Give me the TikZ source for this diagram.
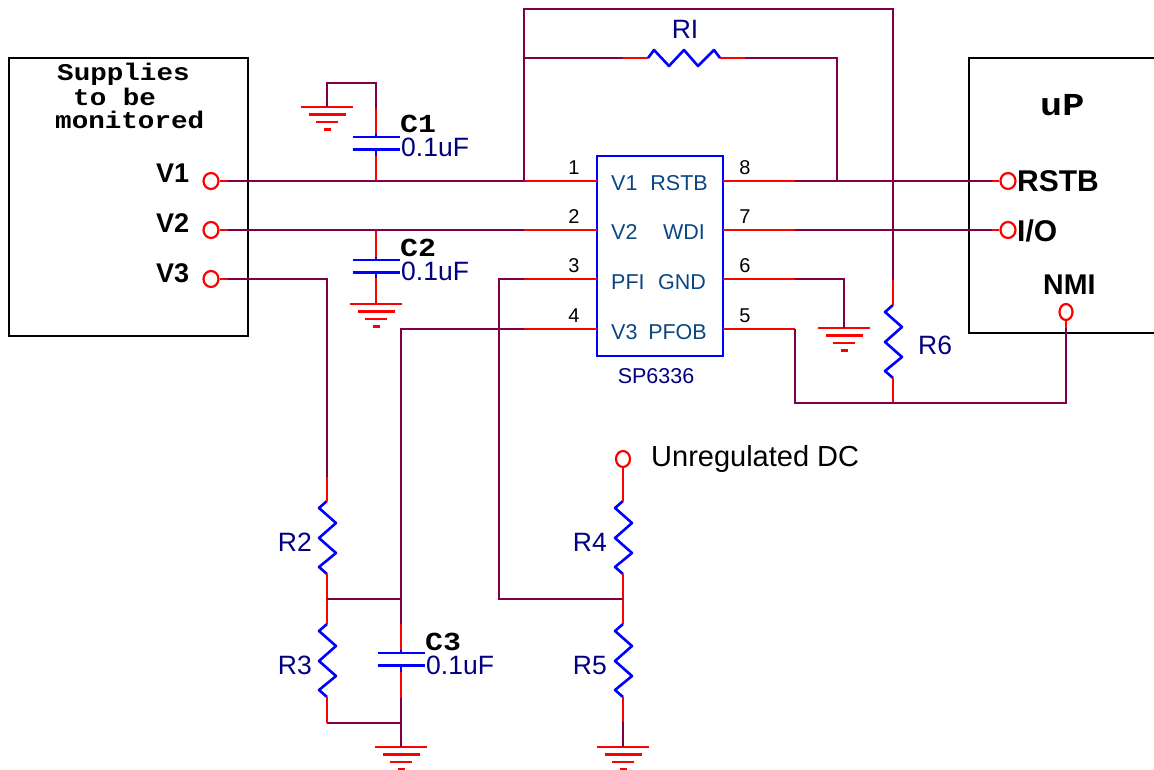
\documentclass[tikz,border=0pt]{standalone}
\usepackage{fontspec}
\setmainfont{Liberation Sans}
\newfontfamily\widemono[FakeStretch=1.15]{Liberation Mono}
\definecolor{wirecol}{RGB}{128,0,72}
\definecolor{navytext}{RGB}{0,0,128}
\definecolor{pintext}{RGB}{10,70,130}
\tikzset{
    wire/.style={line width=2.6pt, wirecol},
    lead/.style={line width=2.6pt, red},
    part/.style={line width=2.6pt, blue},
    frame/.style={line width=2.6pt, black},
    term/.style={draw=red, line width=2.2pt, ellipse, inner sep=0pt, minimum width=15pt, minimum height=16pt},
    boldlabel/.style={anchor=base west, inner sep=0pt, font=\fontsize{27}{27}\selectfont\bfseries},
    widelabel/.style={anchor=base west, inner sep=0pt, font=\fontsize{30}{30}\selectfont\bfseries},
    monolabel/.style={anchor=base west, inner sep=0pt, font=\fontsize{24}{24}\selectfont\widemono\bfseries},
    valuelabel/.style={anchor=base west, inner sep=0pt, navytext, font=\fontsize{26.5}{26.5}\selectfont},
    pinname/.style={inner sep=0pt, pintext, font=\fontsize{21.5}{21.5}\selectfont},
    pinnum/.style={inner sep=0pt, black, font=\fontsize{20}{20}\selectfont}
}
\usetikzlibrary{shapes.geometric}
\begin{document}
\begin{tikzpicture}[x=1pt, y=-1pt]
    \useasboundingbox (0,0) rectangle (1154,770);
    % boxes
    \draw[frame] (9,58) rectangle (248,336);
    \draw[frame] (1154,58) -- (969,58) -- (969,333) -- (1154,333);
    \draw[part] (597,156) rectangle (723,356);
    % terminals
    \node[term] (tV1) at (211,181) {};
    \node[term] (tV2) at (211,230) {};
    \node[term] (tV3) at (211,279) {};
    \node[term] (tRSTB) at (1008,181) {};
    \node[term] (tIO) at (1008,230) {};
    \node[term, minimum width=13pt] (tNMI) at (1066,312) {};
    \node[term, minimum width=14pt] (tDC) at (623,459) {};
    % junctions
    \coordinate (jC1) at (376,181);
    \coordinate (jC2) at (376,230);
    \coordinate (jTop) at (524,181);
    \coordinate (jRI) at (524,58);
    \coordinate (jFb) at (837,181);
    \coordinate (jDiv) at (327,599);
    \coordinate (jC3) at (401,599);
    \coordinate (jLow) at (401,723);
    \coordinate (jPfi) at (623,599);
    \coordinate (jR6) at (893,403);
    % grounds
    \coordinate (gC1) at (327,107);
    \coordinate (gC2) at (376,304);
    \coordinate (gC3) at (401,747);
    \coordinate (gR5) at (623,747);
    \coordinate (gIC) at (844,328);
    \foreach \g in {gC1,gC2,gC3,gR5,gIC} {
        \draw[lead] (\g) ++(-26,0) -- ++(52,0);
        \draw[lead] (\g) ++(-18.5,7.5) -- ++(37,0);
        \draw[lead] (\g) ++(-11,15) -- ++(22,0);
        \draw[lead] (\g) ++(-3.5,22.5) -- ++(7,0);
    }
    % pins
    \foreach \y/\l/\r in {181/1/8, 230/2/7, 279/3/6, 329/4/5} {
        \draw[lead] (524,\y) -- (597,\y);
        \draw[lead] (723,\y) -- (795,\y);
        \node[pinnum] (pin\l) at (574,\y-13) {\l};
        \node[pinnum] (pin\r) at (745,\y-13) {\r};
    }
    % resistors
    \foreach \x/\y in {327/501, 327/624, 623/501, 623/624, 893/305} {
        \draw[part, line join=round] (\x,\y) -- ++(-8,7) -- ++(17,15) -- ++(-17,15) -- ++(17,15) -- ++(-17,14) -- ++(8,7);
    }
    \draw[part, line join=round] (648,58) -- (654,50) -- (669,66) -- (684,50) -- (698,66) -- (714,50) -- (720,58);
    % capacitors
    \foreach \x/\y in {376/137, 376/260, 401/653} {
        \draw[part] (\x-23.5,\y) -- (\x+23.5,\y);
        \draw[part] (\x-23.5,\y+12.5) -- (\x+23.5,\y+12.5);
        \draw[part] (\x,\y-3) -- (\x,\y);
        \draw[part] (\x,\y+12.5) -- (\x,\y+19);
    }
    % red leads
    \draw[lead] (376,108) -- (376,134);
    \draw[lead] (376,156) -- (jC1);
    \draw[lead] (jC2) -- (376,257);
    \draw[lead] (376,278) -- (gC2);
    \draw[lead] (401,624) -- (401,650);
    \draw[lead] (401,672) -- (401,698);
    \draw[lead] (327,477) -- (327,501);
    \draw[lead] (327,574) -- (327,624);
    \draw[lead] (327,697) -- (327,723);
    \draw[lead] (tDC) -- (623,501);
    \draw[lead] (623,574) -- (623,624);
    \draw[lead] (623,697) -- (623,722);
    \draw[lead] (623,58) -- (648,58);
    \draw[lead] (720,58) -- (745,58);
    \draw[lead] (893,280) -- (893,305);
    \draw[lead] (893,378) -- (jR6);
    \draw[lead] (tV1) -- (228,181);
    \draw[lead] (tV2) -- (228,230);
    \draw[lead] (tV3) -- (228,279);
    \draw[lead] (992,181) -- (tRSTB);
    \draw[lead] (992,230) -- (tIO);
    \draw[lead] (1066,328) -- (tNMI);
    % wires
    \draw[wire] (228,181) -- (jC1) -- (jTop);
    \draw[wire] (228,230) -- (jC2) -- (524,230);
    \draw[wire] (228,279) -- (327,279) -- (327,477);
    \draw[wire] (gC1) -- (327,83) -- (376,83) -- (376,108);
    \draw[wire] (jTop) -- (jRI) -- (623,58);
    \draw[wire] (745,58) -- (837,58) -- (jFb);
    \draw[wire] (jRI) -- (524,9) -- (893,9) -- (893,280);
    \draw[wire] (795,181) -- (jFb) -- (992,181);
    \draw[wire] (795,230) -- (992,230);
    \draw[wire] (795,279) -- (844,279) -- (gIC);
    \draw[wire] (795,329) -- (795,403) -- (jR6) -- (1066,403) -- (1066,328);
    \draw[wire] (524,279) -- (499,279) -- (499,599) -- (jPfi);
    \draw[wire] (524,329) -- (401,329) -- (jC3) -- (401,624);
    \draw[wire] (jDiv) -- (jC3);
    \draw[wire] (327,723) -- (jLow);
    \draw[wire] (401,698) -- (jLow) -- (gC3);
    \draw[wire] (623,722) -- (gR5);
    % left box text
    \node[monolabel] (supA) at (57,81) {Supplies};
    \node[monolabel] (supB) at (73,106) {to be};
    \node[monolabel] (supC) at (55,129) {monitored};
    \node[boldlabel] (lV1) at (156,183) {V1};
    \node[boldlabel] (lV2) at (156,233) {V2};
    \node[boldlabel] (lV3) at (156,282) {V3};
    % right box text
    \node[monolabel, font=\fontsize{32}{32}\selectfont\widemono\bfseries] (lUP) at (1040,116) {uP};
    \node[widelabel] (lRSTB) at (1017,192) {RSTB};
    \node[widelabel] (lIO) at (1017,241) {I/O};
    \node[boldlabel, font=\fontsize{28.5}{28.5}\selectfont\bfseries] (lNMI) at (1043,294) {NMI};
    % capacitor text
    \node[monolabel, font=\fontsize{26}{26}\selectfont\widemono\bfseries] (nC1) at (400,133) {C1};
    \node[valuelabel] (vC1) at (401,157) {0.1uF};
    \node[monolabel, font=\fontsize{26}{26}\selectfont\widemono\bfseries] (nC2) at (400,257) {C2};
    \node[valuelabel] (vC2) at (401,280) {0.1uF};
    \node[monolabel, font=\fontsize{26}{26}\selectfont\widemono\bfseries] (nC3) at (425,650) {C3};
    \node[valuelabel] (vC3) at (426,674) {0.1uF};
    % resistor text
    \node[valuelabel, anchor=base] (nRI) at (685,39) {RI};
    \node[valuelabel] (nR6) at (918,354) {R6};
    \node[valuelabel, anchor=base east] (nR2) at (312,551) {R2};
    \node[valuelabel, anchor=base east] (nR3) at (312,674) {R3};
    \node[valuelabel, anchor=base east] (nR4) at (607,551) {R4};
    \node[valuelabel, anchor=base east] (nR5) at (607,674) {R5};
    \node[valuelabel, black, font=\fontsize{29}{29}\selectfont] (lDC) at (651,466) {Unregulated DC};
    % chip text
    \node[pinname, anchor=base west] (pV1) at (611,191) {V1};
    \node[pinname, anchor=base west] (pV2) at (611,240) {V2};
    \node[pinname, anchor=base west] (pPFI) at (611,289.5) {PFI};
    \node[pinname, anchor=base west] (pV3) at (611,339) {V3};
    \node[pinname, anchor=base east] (pRSTB) at (708,191) {RSTB};
    \node[pinname, anchor=base east] (pWDI) at (705,240) {WDI};
    \node[pinname, anchor=base east] (pGND) at (706,289.5) {GND};
    \node[pinname, anchor=base east] (pPFOB) at (707,339) {PFOB};
    \node[pinname, navytext, anchor=base] (lChip) at (656,383) {SP6336};
\end{tikzpicture}
\end{document}
